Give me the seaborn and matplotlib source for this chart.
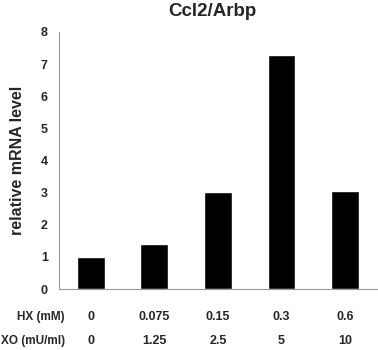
import numpy as np
import pandas as pd
import seaborn as sns
import matplotlib.pyplot as plt
import matplotlib.transforms as mtransforms

# data
hx_labels = ["0", "0.075", "0.15", "0.3", "0.6"]
xo_labels = ["0", "1.25", "2.5", "5", "10"]
levels = [1.0, 1.39, 3.02, 7.27, 3.05]

df = pd.DataFrame({"group": hx_labels, "level": levels})

sns.set_style("white")
plt.rcParams["font.family"] = ["Liberation Sans", "DejaVu Sans"]
plt.rcParams["font.weight"] = "bold"

fig = plt.figure(figsize=(3.78, 3.5), dpi=100)
ax = fig.add_axes([0.156, 0.174, 0.841, 0.735])

sns.barplot(data=df, x="group", y="level", color="black", width=0.44,
            saturation=1, ax=ax)

ax.set_ylim(0, 8)
ax.set_xlim(-0.5, len(levels) - 0.5)
ax.set_yticks(range(0, 9))
ax.tick_params(axis="y", labelsize=9, length=4, color="#999999", width=0.8, pad=4)
for t in ax.get_yticklabels():
    t.set_fontweight("bold")

ax.set_xticks(np.arange(-0.5, len(levels), 1.0))
ax.set_xticklabels([])
ax.tick_params(axis="x", length=4, color="#999999", width=0.8)
ax.set_xlabel("")
ax.set_ylabel("relative mRNA level", fontsize=11.5, fontweight="bold", labelpad=11)

for side in ["top", "right"]:
    ax.spines[side].set_visible(False)
for side in ["left", "bottom"]:
    ax.spines[side].set_color("#999999")
    ax.spines[side].set_linewidth(0.8)

fig.text(212 / 378, 1 - 12 / 350, "Ccl2/Arbp", ha="center", va="center",
         fontsize=13.5, fontweight="bold")

# row labels under the axis
trans = mtransforms.blended_transform_factory(ax.transData, fig.transFigure)
fig.text(65 / 378, 1 - 317 / 350, "HX (mM)", ha="right", va="center",
         fontsize=8.5, fontweight="bold")
fig.text(65 / 378, 1 - 341 / 350, "XO (mU/ml)", ha="right", va="center",
         fontsize=8.5, fontweight="bold")
for i, (h, x) in enumerate(zip(hx_labels, xo_labels)):
    ax.text(i, 1 - 317 / 350, h, transform=trans, ha="center", va="center",
            fontsize=9, fontweight="bold")
    ax.text(i, 1 - 341 / 350, x, transform=trans, ha="center", va="center",
            fontsize=9, fontweight="bold")

fig.savefig("out.png", dpi=100)
